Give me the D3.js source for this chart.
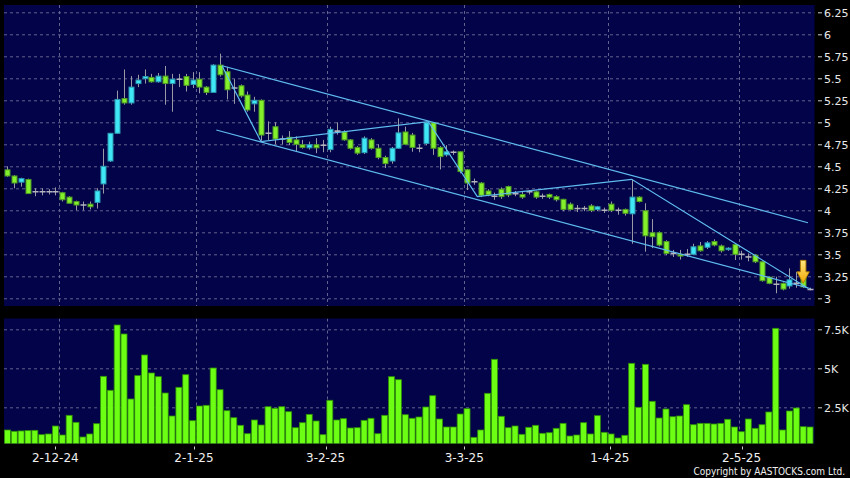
<!DOCTYPE html>
<html><head><meta charset="utf-8">
<script src="https://cdn.jsdelivr.net/npm/d3@7"></script>
<style>html,body{margin:0;padding:0;background:#000;}svg{display:block}</style>
</head><body>
<svg id="c" width="850" height="478"></svg>
<script>
// ---- data ----
const opens = [4.46,4.39,4.32,4.35,4.21,4.21,4.21,4.21,4.20,4.15,
4.10,4.06,4.07,4.09,4.30,4.56,4.875,5.27,5.22,5.44,
5.495,5.51,5.46,5.525,5.44,5.49,5.52,5.43,5.49,5.40,
5.34,5.65,5.575,5.39,5.415,5.31,5.21,5.25,4.875,4.95,
4.81,4.83,4.80,4.745,4.71,4.745,4.74,4.69,4.90,4.89,
4.80,4.715,4.655,4.80,4.705,4.60,4.56,4.705,4.89,4.855,
4.705,4.76,4.995,4.715,4.63,4.66,4.665,4.46,4.325,4.31,
4.22,4.16,4.24,4.27,4.19,4.18,4.21,4.21,4.16,4.18,
4.155,4.125,4.07,4.02,4.02,4.05,4.01,4.00,4.07,4.00,
4.01,3.96,4.15,3.995,3.745,3.745,3.645,3.51,3.50,3.50,
3.50,3.595,3.58,3.645,3.595,3.56,3.61,3.50,3.47,3.49,
3.415,3.24,3.16,3.17,3.14,3.17,3.28,3.10];
const highs = [4.50,4.40,4.37,4.36,4.25,4.25,4.24,4.26,4.21,4.16,
4.11,4.10,4.10,4.25,4.70,4.88,5.36,5.60,5.525,5.54,
5.60,5.55,5.56,5.64,5.55,5.55,5.55,5.57,5.57,5.41,
5.66,5.78,5.63,5.49,5.43,5.35,5.29,5.26,5.01,5.00,
4.85,4.90,4.84,4.80,4.78,4.82,4.80,4.95,5.00,4.91,
4.81,4.73,4.84,4.82,4.75,4.62,4.72,5.045,4.95,4.88,
4.75,5.00,5.00,4.73,4.74,4.68,4.67,4.47,4.36,4.32,
4.24,4.20,4.26,4.28,4.22,4.22,4.23,4.22,4.19,4.19,
4.17,4.13,4.09,4.06,4.05,4.07,4.05,4.03,4.10,4.03,
4.02,4.35,4.16,4.08,3.90,3.76,3.66,3.55,3.55,3.56,
3.62,3.64,3.65,3.67,3.61,3.58,3.62,3.54,3.51,3.50,
3.42,3.25,3.245,3.18,3.34,3.30,3.30,3.12];
const lows = [4.38,4.25,4.27,4.19,4.16,4.17,4.18,4.17,4.10,4.08,
4.00,4.00,4.01,4.02,4.19,4.55,4.87,5.20,5.20,5.40,
5.44,5.45,5.45,5.20,5.12,5.40,5.35,5.39,5.33,5.31,
5.34,5.52,5.26,5.21,5.28,5.12,5.12,4.79,4.80,4.75,
4.75,4.74,4.67,4.70,4.69,4.65,4.66,4.66,4.86,4.79,
4.69,4.63,4.64,4.69,4.58,4.48,4.53,4.70,4.74,4.665,
4.66,4.74,4.63,4.465,4.61,4.63,4.42,4.23,4.29,4.15,
4.16,4.12,4.13,4.15,4.16,4.13,4.18,4.13,4.13,4.13,
4.10,3.99,4.00,3.98,3.99,3.98,3.99,3.97,3.98,3.95,
3.94,3.62,4.09,3.53,3.57,3.59,3.49,3.47,3.44,3.47,
3.49,3.53,3.56,3.59,3.52,3.54,3.435,3.44,3.42,3.40,
3.19,3.16,3.057,3.09,3.11,3.12,3.12,3.09];
const closes = [4.39,4.31,4.36,4.19,4.21,4.21,4.21,4.21,4.12,4.08,
4.06,4.06,4.04,4.22,4.50,4.875,5.26,5.22,5.40,5.48,
5.52,5.46,5.525,5.44,5.49,5.49,5.42,5.48,5.40,5.34,
5.65,5.54,5.37,5.39,5.30,5.14,5.25,4.855,4.875,4.81,
4.81,4.77,4.75,4.715,4.745,4.71,4.74,4.92,4.90,4.80,
4.705,4.65,4.82,4.705,4.60,4.53,4.705,4.88,4.75,4.715,
4.705,4.995,4.705,4.61,4.665,4.66,4.44,4.31,4.325,4.17,
4.175,4.16,4.155,4.175,4.19,4.15,4.21,4.15,4.16,4.15,
4.12,4.01,4.01,4.02,4.02,4.00,4.04,4.00,4.00,4.00,
3.966,4.15,4.10,3.71,3.70,3.605,3.51,3.51,3.48,3.50,
3.585,3.54,3.63,3.605,3.54,3.57,3.50,3.50,3.47,3.415,
3.20,3.17,3.16,3.105,3.21,3.17,3.13,3.10];
const volumes = [1045,962,983,1004,1024,745,790,1300,724,1987,
1538,597,790,1450,4487,3590,7776,7199,3032,4530,
5853,4699,4462,3416,1942,3782,4590,1641,2583,2628,
5019,3628,2282,1833,1346,808,1686,1365,2538,2436,
2538,2218,1192,1513,2049,1622,745,2949,1686,1771,
1173,1192,1666,1795,808,1987,4462,4270,2026,1795,
1878,2519,3244,1750,1237,1237,2070,2410,577,1045,
3397,5577,1923,1192,1301,769,1218,1346,833,872,
1154,1472,660,724,1513,790,1964,897,790,532,
705,5320,2500,5256,2885,1814,2391,1897,1942,2667,
1385,1472,1472,1429,1472,1731,1237,936,1750,1154,
1385,2199,7564,1045,2263,2455,1256,1237];
const dateLabels = ["2-12-24","2-1-25","3-2-25","3-3-25","1-4-25","2-5-25"];
const dateIndex = [7,27,46,66,87,106];
const priceTicks = [3,3.25,3.5,3.75,4,4.25,4.5,4.75,5,5.25,5.5,5.75,6,6.25];
const volTicks = [2500,5000,7500];
// trend lines as [bar index, price]
const upperChannel = [[31.3,5.643],[116.7,3.859]];
const lowerChannel = [[30.45,4.9125],[117.0,3.111]];
const zigzag = [[31.3,5.64],[36.97,4.78],[61.35,5.007],[68.5,4.155],[91.0,4.352],[116.7,3.114]];
const arrowMark = {index:116, price:3.17};
const copyright = "Copyright by AASTOCKS.com Ltd.";

// ---- layout ----
const W=850,H=478;
const P={l:4,r:814.5,t:5,b:306};
const V={l:4,r:814.5,t:318.5,b:443.5};
const svg=d3.select("#c");
svg.append("rect").attr("width",W).attr("height",H).attr("fill","#000");

const n=opens.length;
const x=d3.scaleLinear().domain([0,n-1]).range([7.4,7.4+(n-1)*6.86]);
const xGrid=d3.scaleLinear().domain([7,106]).range([58.7,739]);
const xTick=d3.scaleLinear().domain([7,106]).range([55.3,741.5]);
const yP=d3.scaleLinear().domain([3,6.25]).range([298.3,12.3]);
const yV=d3.scaleLinear().domain([0,7500]).range([446.3,329.3]);

const defs=svg.append("defs");
defs.append("clipPath").attr("id","cp").append("rect").attr("x",P.l).attr("y",P.t).attr("width",P.r-P.l).attr("height",P.b-P.t);
defs.append("clipPath").attr("id","cv").append("rect").attr("x",V.l).attr("y",V.t).attr("width",V.r-V.l).attr("height",V.b-V.t);
const grad=defs.append("linearGradient").attr("id","ag").attr("x1",0).attr("y1",0).attr("x2",0).attr("y2",1);
grad.append("stop").attr("offset","0%").attr("stop-color","#ffe680");
grad.append("stop").attr("offset","100%").attr("stop-color","#f0a800");

const BG="#03034a";
svg.append("rect").attr("x",P.l).attr("y",P.t).attr("width",P.r-P.l).attr("height",P.b-P.t).attr("fill",BG);
svg.append("rect").attr("x",V.l).attr("y",V.t).attr("width",V.r-V.l).attr("height",V.b-V.t).attr("fill",BG);

const gridCol="#62628e";
const gP=svg.append("g").attr("clip-path","url(#cp)");
const gV=svg.append("g").attr("clip-path","url(#cv)");
gP.selectAll("line.hg").data(priceTicks).join("line")
  .attr("x1",P.l).attr("x2",P.r).attr("y1",d=>yP(d)+0.5).attr("y2",d=>yP(d)+0.5)
  .attr("stroke",gridCol).attr("stroke-dasharray","3,3");
gP.selectAll("line.vg").data(dateIndex).join("line")
  .attr("y1",P.t).attr("y2",P.b).attr("x1",d=>Math.round(xGrid(d))+0.5).attr("x2",d=>Math.round(xGrid(d))+0.5)
  .attr("stroke",gridCol).attr("stroke-dasharray","3,3");
gV.selectAll("line.hg").data(volTicks).join("line")
  .attr("x1",V.l).attr("x2",V.r).attr("y1",d=>yV(d)+0.5).attr("y2",d=>yV(d)+0.5)
  .attr("stroke",gridCol).attr("stroke-dasharray","3,3");
gV.selectAll("line.vg").data(dateIndex).join("line")
  .attr("y1",V.t).attr("y2",V.b).attr("x1",d=>Math.round(xGrid(d))+0.5).attr("x2",d=>Math.round(xGrid(d))+0.5)
  .attr("stroke",gridCol).attr("stroke-dasharray","3,3");

// volume bars
gV.selectAll("rect.vb").data(volumes).join("rect")
  .attr("x",(d,i)=>x(i)-3).attr("width",6)
  .attr("y",d=>yV(d)).attr("height",d=>yV(0)-yV(d))
  .attr("fill","#6cff14").attr("stroke","#2f8f06").attr("stroke-width",0.8);

// candles
const idx=d3.range(n);
gP.selectAll("line.wk").data(idx).join("line")
  .attr("x1",i=>Math.round(x(i))+0.5).attr("x2",i=>Math.round(x(i))+0.5)
  .attr("y1",i=>yP(highs[i])).attr("y2",i=>yP(lows[i]))
  .attr("stroke","#9a9aa6").attr("stroke-width",1);
const doji=idx.filter(i=>Math.abs(opens[i]-closes[i])<0.006);
const body=idx.filter(i=>Math.abs(opens[i]-closes[i])>=0.006);
gP.selectAll("line.dj").data(doji).join("line")
  .attr("x1",i=>Math.round(x(i))-2.5).attr("x2",i=>Math.round(x(i))+3.5)
  .attr("y1",i=>yP(opens[i])).attr("y2",i=>yP(opens[i]))
  .attr("stroke","#b4b4bc").attr("stroke-width",1.6);
gP.selectAll("rect.cb").data(body).join("rect")
  .attr("x",i=>Math.round(x(i))-2).attr("width",5)
  .attr("y",i=>yP(Math.max(opens[i],closes[i])))
  .attr("height",i=>Math.max(1.5,Math.abs(yP(opens[i])-yP(closes[i]))))
  .attr("fill",i=>closes[i]>opens[i]?"#3fe6f6":"#84f02c")
  .attr("stroke",i=>closes[i]>opens[i]?"#2a98b0":"#4c9a22").attr("stroke-width",1);

// trend lines
const line=d3.line().x(d=>x(d[0])).y(d=>yP(d[1]));
[upperChannel,lowerChannel,zigzag].forEach(pts=>{
  gP.append("path").attr("d",line(pts)).attr("fill","none").attr("stroke","#5fbcef").attr("stroke-width",1.2);
});

// arrow
const ax=x(arrowMark.index), ay=yP(arrowMark.price);
const arrowPts=[[ax-2.8,ay-23],[ax+2.8,ay-23],[ax+2.8,ay-11.5],[ax+6.2,ay-11.5],[ax,ay],[ax-6.2,ay-11.5],[ax-2.8,ay-11.5]];
gP.append("polygon").attr("points",arrowPts.map(p=>p.join(",")).join(" "))
  .attr("fill","url(#ag)").attr("stroke","#b07a00").attr("stroke-width",0.9);

// right axis labels
const font="DejaVu Sans, Verdana, sans-serif";
svg.selectAll("line.pt").data(priceTicks).join("line")
  .attr("x1",818).attr("x2",822).attr("y1",d=>yP(d)+0.5).attr("y2",d=>yP(d)+0.5).attr("stroke","#cfcfcf");
svg.selectAll("text.pl").data(priceTicks).join("text")
  .attr("x",824).attr("y",d=>yP(d)+1.5).attr("dominant-baseline","middle")
  .attr("fill","#e8e8e8").attr("font-family",font).attr("font-size","11px").text(d=>String(d));
svg.selectAll("line.vt").data(volTicks).join("line")
  .attr("x1",818).attr("x2",822).attr("y1",d=>yV(d)+0.5).attr("y2",d=>yV(d)+0.5).attr("stroke","#cfcfcf");
svg.selectAll("text.vl").data(volTicks).join("text")
  .attr("x",824).attr("y",d=>yV(d)+1.5).attr("dominant-baseline","middle")
  .attr("fill","#e8e8e8").attr("font-family",font).attr("font-size","11px").text(d=>(d/1000)+"K");

// bottom date axis
svg.selectAll("line.dt").data(dateIndex).join("line")
  .attr("x1",d=>Math.round(xTick(d))+0.5).attr("x2",d=>Math.round(xTick(d))+0.5)
  .attr("y1",446.5).attr("y2",449.5).attr("stroke","#cfcfcf");
svg.selectAll("text.dl").data(dateIndex).join("text")
  .attr("x",d=>xTick(d)).attr("y",461.5).attr("text-anchor","middle")
  .attr("fill","#f0f0f0").attr("font-family",font).attr("font-size","12px").text((d,i)=>dateLabels[i]);

svg.append("text").attr("x",845).attr("y",474.5).attr("text-anchor","end")
  .attr("fill","#f0f0f0").attr("font-family","'DejaVu Sans Condensed', 'DejaVu Sans', sans-serif").attr("font-size","10px")
  .text(copyright);
</script>
</body></html>
